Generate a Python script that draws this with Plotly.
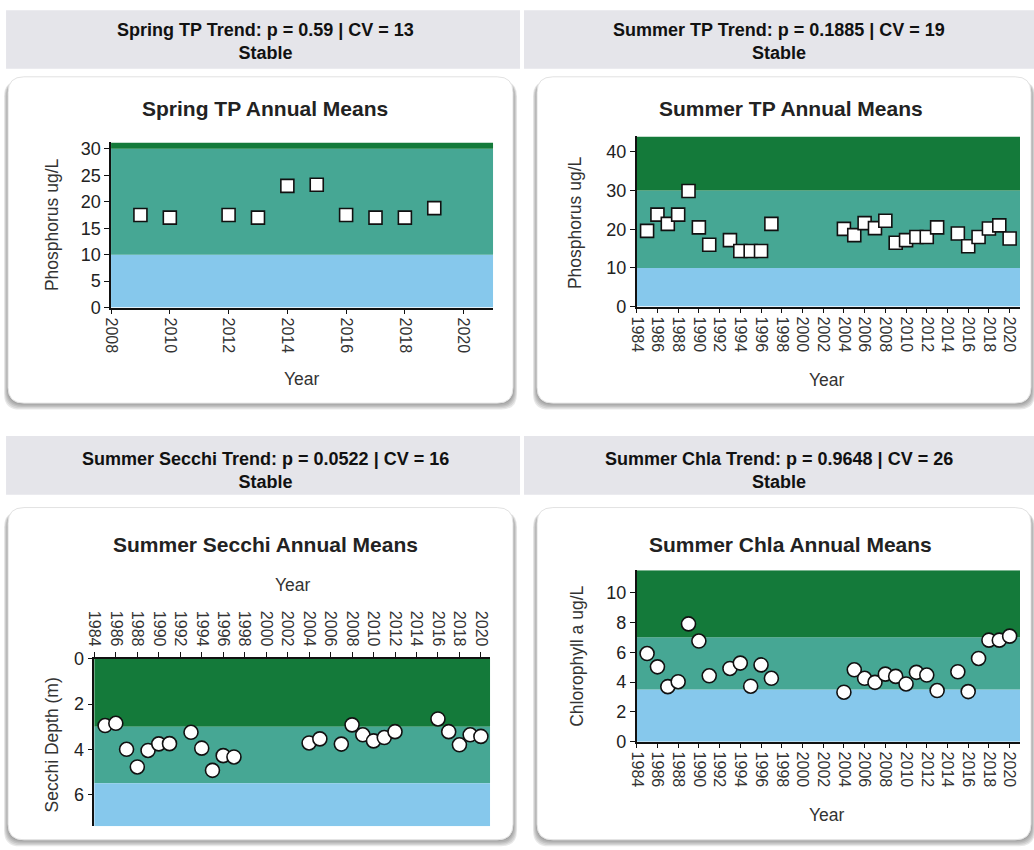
import plotly.graph_objects as go

# ---- data -------------------------------------------------------------
spring_tp_years = [2009, 2010, 2012, 2013, 2014, 2015, 2016, 2017, 2018, 2019]
spring_tp_vals = [17.5, 17.0, 17.5, 17.0, 23.0, 23.2, 17.5, 17.0, 17.0, 18.8]

summer_tp_years = [1985, 1986, 1987, 1988, 1989, 1990, 1991,
                   1993, 1994, 1995, 1996, 1997,
                   2004, 2005, 2006, 2007, 2008, 2009, 2010, 2011, 2012, 2013,
                   2015, 2016, 2017, 2018, 2019, 2020]
summer_tp_vals = [19.6, 23.8, 21.4, 23.8, 29.9, 20.5, 16.0,
                  17.2, 14.4, 14.4, 14.4, 21.4,
                  20.1, 18.5, 21.6, 20.3, 22.2, 16.5, 17.2, 18.0, 18.0, 20.5,
                  18.9, 15.6, 18.0, 20.2, 21.0, 17.6]

secchi_years = [1985, 1986, 1987, 1988, 1989, 1990, 1991,
                1993, 1994, 1995, 1996, 1997,
                2004, 2005, 2007, 2008, 2009, 2010, 2011, 2012,
                2016, 2017, 2018, 2019, 2020]
secchi_vals = [2.95, 2.85, 4.00, 4.78, 4.05, 3.76, 3.75,
               3.25, 3.95, 4.93, 4.28, 4.34,
               3.72, 3.54, 3.77, 2.92, 3.36, 3.63, 3.48, 3.22,
               2.66, 3.22, 3.80, 3.36, 3.43]

chla_years = [1985, 1986, 1987, 1988, 1989, 1990, 1991,
              1993, 1994, 1995, 1996, 1997,
              2004, 2005, 2006, 2007, 2008, 2009, 2010, 2011, 2012, 2013,
              2015, 2016, 2017, 2018, 2019, 2020]
chla_vals = [5.91, 5.02, 3.69, 4.02, 7.90, 6.75, 4.42,
             4.91, 5.27, 3.72, 5.15, 4.25,
             3.32, 4.82, 4.25, 3.98, 4.53, 4.38, 3.87, 4.65, 4.47, 3.43,
             4.69, 3.36, 5.58, 6.81, 6.81, 7.08]

# trophic band limits (low, high) for each parameter
tp_bands = [10, 30]
secchi_bands = [3.0, 5.5]
chla_bands = [3.5, 7.0]

header_texts = [
    "Spring TP Trend: p = 0.59 | CV = 13<br>Stable",
    "Summer TP Trend: p = 0.1885 | CV = 19<br>Stable",
    "Summer Secchi Trend: p = 0.0522 | CV = 16<br>Stable",
    "Summer Chla Trend: p = 0.9648 | CV = 26<br>Stable",
]
chart_titles = ["Spring TP Annual Means", "Summer TP Annual Means",
                "Summer Secchi Annual Means", "Summer Chla Annual Means"]
y_titles = ["Phosphorus ug/L", "Phosphorus ug/L", "Secchi Depth (m)", "Chlorophyll a ug/L"]

# ---- styling ----------------------------------------------------------
W, H = 1034, 850
# The page body keeps its default 8px margin; layout positions below are
# given in final screen pixels and converted to figure fractions here.
OFF = 8
SX = (W + OFF) / W
SY = (H + 2 * OFF) / H
FONT = "Arial, 'Liberation Sans', sans-serif"
DARK = "#147a3a"
TEAL = "#46a794"
BLUE = "#86c8ec"
HEADER_BG = "#e5e5ea"


def px(x):
    return (x * SX - OFF) / W


def py(y):
    return 1 - (y * SY - OFF) / H


def rrect_path(x0, y0, x1, y1, r):
    X0, X1 = px(x0), px(x1)
    Y0, Y1 = py(y0), py(y1)
    rx, ry = r / W, r / H
    pts = [
        f"M {X0 + rx},{Y0}",
        f"L {X1 - rx},{Y0}",
        f"Q {X1},{Y0} {X1},{Y0 - ry}",
        f"L {X1},{Y1 + ry}",
        f"Q {X1},{Y1} {X1 - rx},{Y1}",
        f"L {X0 + rx},{Y1}",
        f"Q {X0},{Y1} {X0},{Y1 + ry}",
        f"L {X0},{Y0 - ry}",
        f"Q {X0},{Y0} {X0 + rx},{Y0}",
    ]
    return " ".join(pts) + " Z"


fig = go.Figure()
shapes = []
annotations = []

# header bars and cards (screen pixel boxes)
headers = [(6, 8, 520, 67), (524, 8, 1034, 67), (6, 436, 520, 495), (524, 436, 1034, 495)]
header_text_y = [40, 40, 471, 471]
cards = [(8, 75, 513, 403), (537, 75, 1031, 403), (8, 508, 513, 842), (537, 508, 1031, 842)]

for (x0, y0, x1, y1), ty, txt in zip(headers, header_text_y, header_texts):
    shapes.append(dict(type="rect", xref="paper", yref="paper", layer="below",
                       x0=px(x0), x1=px(x1), y0=py(y1), y1=py(y0),
                       fillcolor=HEADER_BG, line=dict(width=0)))
    cx = 265 if x0 < 500 else 779
    annotations.append(dict(xref="paper", yref="paper", x=px(cx),
                            y=py(ty), text=f"<b>{txt}</b>", showarrow=False,
                            xanchor="center", yanchor="middle",
                            font=dict(family=FONT, size=18, color="#111")))

for (x0, y0, x1, y1) in cards:
    # soft drop shadow built from stacked translucent layers
    for k in range(5, 0, -1):
        shapes.append(dict(type="path", xref="paper", yref="paper", layer="below",
                           path=rrect_path(x0 - k * 0.8, y0 + 4, x1 + k * 0.8, y1 + k * 1.3, 16),
                           fillcolor="rgba(80,80,80,0.13)", line=dict(width=0)))
    shapes.append(dict(type="path", xref="paper", yref="paper", layer="below",
                       path=rrect_path(x0, y0, x1, y1, 16),
                       fillcolor="white", line=dict(color="#e2e2e2", width=1)))

# plot areas in screen pixels: (left, top, right, bottom)
areas = [(111, 141, 493, 307), (636.7, 135, 1020, 306),
         (94.3, 660, 490, 828.3), (636.7, 571, 1020, 743.3)]
y_ranges = [[0, 31.2], [0, 44], [7.4, 0], [0, 11.5]]
x_ranges = [[2008, 2021], [1984, 2021], [1984, 2020.85], [1984, 2021]]
x_ticks = [list(range(2008, 2021, 2)), list(range(1984, 2021, 2)),
           list(range(1984, 2021, 2)), list(range(1984, 2021, 2))]
y_ticks = [list(range(0, 31, 5)), list(range(0, 41, 10)), [0, 2, 4, 6], list(range(0, 11, 2))]
bands = [tp_bands, tp_bands, secchi_bands, chla_bands]
series = [(spring_tp_years, spring_tp_vals, "square"),
          (summer_tp_years, summer_tp_vals, "square"),
          (secchi_years, secchi_vals, "circle"),
          (chla_years, chla_vals, "circle")]

layout_axes = {}
for i in range(4):
    n = "" if i == 0 else str(i + 1)
    l, t, r, b = areas[i]
    yr = y_ranges[i]
    lo, hi = bands[i]
    ymin, ymax = min(yr), max(yr)
    if i == 2:
        # Secchi: shallow depth = poor clarity, drawn dark at top
        band_defs = [(ymin, lo, DARK), (lo, hi, TEAL), (hi, ymax, BLUE)]
    else:
        band_defs = [(ymin, lo, BLUE), (lo, hi, TEAL), (hi, ymax, DARK)]
    for b0, b1, col in band_defs:
        shapes.append(dict(type="rect", xref=f"x{n} domain", yref=f"y{n}", layer="below",
                           x0=0, x1=1, y0=b0, y1=b1, fillcolor=col, line=dict(width=0)))

    top_axis = (i == 2)
    layout_axes[f"xaxis{n}"] = dict(
        domain=[px(l), px(r)], range=x_ranges[i], anchor=f"y{n}",
        side="top" if top_axis else "bottom",
        tickmode="array", tickvals=x_ticks[i], ticktext=[str(v) for v in x_ticks[i]],
        tickangle=90, ticks="outside", ticklen=5, tickcolor="#111", tickwidth=1.2,
        showline=True, linecolor="#111", linewidth=1.5, showgrid=False, zeroline=False,
        tickfont=dict(family=FONT, size=16, color="#333"), fixedrange=True)
    layout_axes[f"yaxis{n}"] = dict(
        domain=[py(b), py(t)], range=yr, anchor=f"x{n}",
        tickmode="array", tickvals=y_ticks[i],
        ticks="outside", ticklen=5, tickcolor="#111", tickwidth=1.2,
        showline=True, linecolor="#111", linewidth=1.5, showgrid=False, zeroline=False,
        tickfont=dict(family=FONT, size=18, color="#222"), fixedrange=True)

    xs, ys, sym = series[i]
    fig.add_trace(go.Scatter(
        x=xs, y=ys, mode="markers", xaxis=f"x{n}", yaxis=f"y{n}", showlegend=False,
        marker=dict(symbol=sym, size=14 if sym == "circle" else 13, color="white",
                    line=dict(color="#111", width=1.6))))

# chart titles, axis titles
title_pos = [(265, 107), (791, 107), (265, 545), (790, 545)]
ytitle_pos = [(52, 224), (575, 222), (52, 747), (577, 658)]
year_pos = [(302, 379), (827, 380), (293, 586), (827, 817)]
for i in range(4):
    tx, ty = title_pos[i]
    annotations.append(dict(xref="paper", yref="paper", x=px(tx), y=py(ty),
                            text=f"<b>{chart_titles[i]}</b>", showarrow=False,
                            xanchor="center", yanchor="middle",
                            font=dict(family=FONT, size=21, color="#222")))
    ax, ay = ytitle_pos[i]
    annotations.append(dict(xref="paper", yref="paper", x=px(ax), y=py(ay),
                            text=y_titles[i], showarrow=False, textangle=-90,
                            xanchor="center", yanchor="middle",
                            font=dict(family=FONT, size=17.5, color="#333")))
    yx, yy = year_pos[i]
    annotations.append(dict(xref="paper", yref="paper", x=px(yx), y=py(yy),
                            text="Year", showarrow=False,
                            xanchor="center", yanchor="middle",
                            font=dict(family=FONT, size=17.5, color="#333")))

fig.update_layout(
    width=W, height=H, margin=dict(l=0, r=0, t=0, b=0),
    paper_bgcolor="white", plot_bgcolor="rgba(0,0,0,0)",
    shapes=shapes, annotations=annotations, **layout_axes)

fig.write_html("out.html", config={"displayModeBar": False})
